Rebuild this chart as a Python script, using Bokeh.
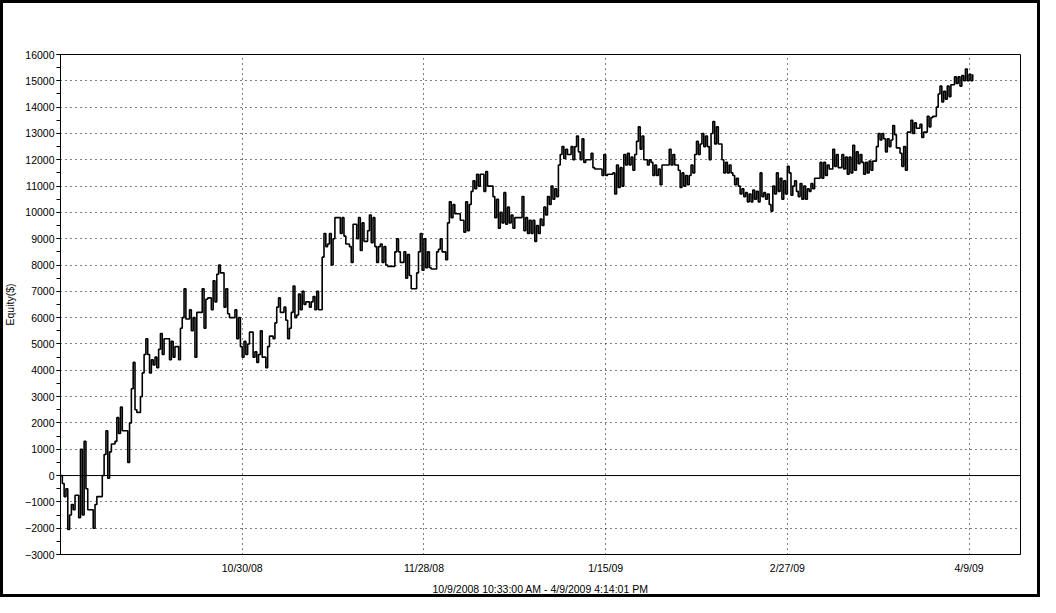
from bokeh.plotting import figure
from bokeh.models import Span, Label, FixedTicker, SingleIntervalTicker, Range1d
from bokeh.embed import file_html
from bokeh.resources import INLINE

title_text = "Equity Curve Detailed - @ES 3200 Tick Bar(10/08/08 16:55 - 04/09/09 16:14)"
x_axis_title = "10/9/2008 10:33:00 AM - 4/9/2009 4:14:01 PM"
y_axis_title = "Equity($)"

date_ticks = [100, 200, 300, 400, 500]
date_labels = ["10/30/08", "11/28/08", "1/15/09", "2/27/09", "4/9/09"]

equity = [
    0, -300, -800, -500, -2050, -1500, -1100, -1300, -750, -750,
    -1600, 1000, -1500, 1300, -500, -1300, -1300, -1300, -2000, -1100,
    -800, -800, -800, 0, 800, 1700, -100, 900, 1200, 1200,
    1300, 2200, 1600, 2600, 1700, 1700, 1700, 500, 2000, 3300,
    4300, 2500, 2400, 2400, 3000, 3900, 4600, 5200, 4600, 3900,
    4400, 4200, 4500, 4100, 4800, 5400, 4600, 5200, 5200, 5200,
    4400, 5100, 4500, 4900, 4900, 4400, 5600, 6000, 7100, 5950,
    5950, 6300, 5500, 6000, 4500, 6200, 6200, 6200, 7100, 5600,
    6700, 6750, 6750, 6300, 7400, 6600, 7650, 8000, 7700, 7700,
    6400, 7100, 6150, 6000, 6000, 6000, 6300, 5200, 6000, 4900,
    4500, 5100, 4600, 5000, 5450, 5450, 4500, 4700, 4300, 4600,
    5500, 4500, 4500, 4100, 4900, 5300, 5300, 5200, 5800, 6400,
    6750, 6200, 6200, 6400, 5900, 5200, 5600, 6200, 7200, 6000,
    6100, 6900, 6300, 7000, 6500, 6600, 6600, 6400, 6600, 6800,
    6300, 7000, 6300, 6300, 8300, 9200, 8700, 8800, 9200, 8000,
    9000, 9800, 9800, 9800, 9200, 9800, 9100, 8800, 8800, 8700,
    8100, 9550, 9550, 9000, 9800, 8550, 9600, 8900, 8900, 9300,
    9900, 8850, 9800, 8700, 8100, 8700, 8800, 8100, 8700, 8000,
    7950, 7950, 7950, 7950, 8500, 9000, 8500, 8100, 8100, 8500,
    7500, 8400, 7600, 7100, 7100, 7100, 7700, 8500, 9200, 7800,
    9000, 7900, 8500, 7900, 7850, 7850, 7850, 8500, 8600, 9000,
    8500, 8500, 8200, 9600, 10400, 9800, 10300, 9950, 9950, 9950,
    9700, 9700, 9250, 10400, 9300, 10300, 10800, 11200, 10900, 11450,
    11000, 11450, 11450, 10800, 11550, 11000, 11000, 11000, 10600, 9800,
    10500, 9400, 10000, 9600, 10750, 9550, 10200, 9600, 9900, 9400,
    9800, 9800, 9800, 9800, 10600, 9300, 9800, 9200, 9700, 9200,
    9700, 8900, 9500, 9200, 9750, 9500, 10200, 9900, 10600, 10300,
    11000, 10500, 10900, 10600, 11800, 12200, 12500, 12050, 12400, 12200,
    12200, 12500, 12000, 12500, 12900, 12300, 12000, 12800, 11900, 12000,
    12000, 12000, 12250, 11700, 11650, 11650, 11650, 11650, 11400, 12200,
    11400, 11450, 11450, 11450, 11500, 10700, 11800, 10950, 11700, 11000,
    12200, 11800, 12250, 11800, 12100, 11600, 12200, 12700, 13250, 12400,
    12900, 12000, 12000, 11800, 12000, 11900, 11400, 11800, 11400, 11650,
    11050, 11800, 11800, 11800, 11800, 12400, 11800, 12200, 11800, 11800,
    11600, 10950, 11500, 11000, 11400, 11050, 11400, 11800, 11500, 12200,
    12700, 12200, 12600, 13000, 12500, 12900, 12500, 12000, 13000, 13450,
    12600, 13250, 12600, 12600, 12000, 11500, 11900, 11500, 11800, 11500,
    11400, 11050, 11300, 11000, 10700, 10900, 10600, 10750, 10400, 10700,
    10400, 10850, 10500, 10800, 10400, 11500, 10600, 10750, 10500, 10700,
    10300, 10050, 11000, 10700, 11500, 10800, 11300, 10500, 11200, 10700,
    11750, 11500, 10650, 11000, 11200, 10800, 10600, 11100, 10500, 11000,
    10500, 10900, 10800, 11100, 10900, 11300, 11300, 11300, 11900, 11300,
    11900, 11400, 11800, 11650, 11650, 12400, 11750, 12200, 11700, 11700,
    12200, 11650, 12100, 11450, 12100, 11500, 12550, 11600, 12300, 11850,
    12200, 11900, 11450, 11900, 11500, 11950, 11600, 11950, 11950, 12500,
    13000, 12750, 13000, 12800, 12300, 12800, 12500, 12750, 13300, 12950,
    12450, 12450, 12250, 11750, 12500, 11600, 13050, 13050, 13500, 13000,
    13400, 13200, 13200, 13350, 12850, 13050, 13050, 13650, 13250, 13600,
    13650, 13650, 14000, 14500, 14800, 14200, 14600, 14300, 14800, 14400,
    14850, 14850, 15150, 14900, 15150, 14800, 15200, 15000, 15450, 15000,
    15250, 15000, 15250,
]
bar_index = list(range(len(equity)))

FONT = "Liberation Sans"

p = figure(width=1040, height=597, output_backend="svg", toolbar_location=None,
           x_range=Range1d(0, 528.3), y_range=Range1d(-3000, 16000),
           min_border_left=60, min_border_right=20, min_border_top=54, min_border_bottom=41,
           background_fill_color="white", border_fill_color="white", border_fill_alpha=0)
p.styles = {"box-shadow": "inset 0 0 0 3px black", "background-color": "white"}
p.outline_line_color = "black"
p.outline_line_width = 1

# grids
p.xgrid.ticker = FixedTicker(ticks=date_ticks)
p.xgrid.grid_line_color = "black"
p.xgrid.grid_line_dash = "1 4"
p.xgrid.grid_line_width = 1
p.ygrid.grid_line_color = "black"
p.ygrid.grid_line_dash = "1 4"
p.ygrid.grid_line_width = 1

# x axis
p.xaxis.ticker = FixedTicker(ticks=date_ticks)
p.xaxis.major_label_overrides = {t: l for t, l in zip(date_ticks, date_labels)}
p.xaxis.major_tick_out = 0
p.xaxis.major_tick_in = 0
p.xaxis.minor_tick_out = 0
p.xaxis.minor_tick_in = 0
p.xaxis.axis_line_color = "black"
p.xaxis.major_label_standoff = 7
p.xaxis.axis_label = x_axis_title
p.xaxis.axis_label_standoff = 6
p.xaxis.axis_label_text_font_style = "normal"

# y axis
p.yaxis.ticker = SingleIntervalTicker(interval=1000, num_minor_ticks=2)
p.yaxis.major_tick_out = 4
p.yaxis.major_tick_in = 0
p.yaxis.minor_tick_out = 4
p.yaxis.minor_tick_in = 0
p.yaxis.major_tick_line_color = "black"
p.yaxis.minor_tick_line_color = "black"
p.yaxis.axis_line_color = "black"
p.yaxis.major_label_standoff = 2
p.yaxis.axis_label = y_axis_title
p.yaxis.axis_label_standoff = 6
p.yaxis.axis_label_text_font_style = "normal"

for ax in (p.xaxis, p.yaxis):
    ax.major_label_text_font = FONT
    ax.major_label_text_font_size = "10.5px"
    ax.major_label_text_color = "black"
    ax.axis_label_text_font = FONT
    ax.axis_label_text_font_size = "10.5px"
    ax.axis_label_text_color = "black"

# zero line
p.add_layout(Span(location=0, dimension="width", line_color="black", line_width=1))

# equity curve
p.step(bar_index, equity, mode="after", line_color="black", line_width=1.6)

# title
p.add_layout(Label(x=448.5, y=549.5, x_units="screen", y_units="screen",
                   text=title_text, text_align="center", text_baseline="middle",
                   text_font=FONT, text_font_size="11px",
                   text_font_style="bold", text_color="black"))

open("out.html", "w").write(file_html(p, INLINE))
